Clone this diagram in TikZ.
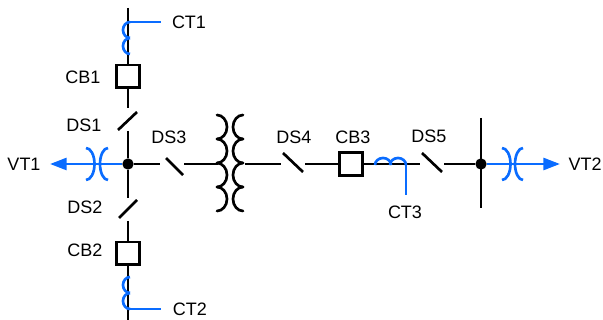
\documentclass[tikz,border=0pt]{standalone}
\usepackage{fontspec}
\setmainfont{Liberation Sans}
\usetikzlibrary{arrows.meta}
\definecolor{ctblue}{RGB}{10,108,255}
\tikzset{
  wire/.style={line width=2pt},
  bluewire/.style={line width=2pt, color=ctblue},
  cbbox/.style={draw, line width=2pt, fill=white, minimum size=17pt, inner sep=0pt},
  busdot/.style={circle, fill=black, minimum size=8.5pt, inner sep=0pt},
  lbl/.style={font=\fontsize{13.5pt}{15pt}\selectfont, inner sep=0pt}
}
\begin{document}
\begin{tikzpicture}[x=0.75pt, y=-0.75pt]
\useasboundingbox (0,0) rectangle (603,320);

% breakers and bus dots
\node[cbbox] (CB1) at (128,76.5) {};
\node[cbbox] (CB2) at (128,253.5) {};
\node[cbbox] (CB3) at (351,164) {};
\node[busdot] (J1) at (128,164) {};
\node[busdot] (J2) at (481,164) {};

% line ends and contacts
\foreach \name/\x/\y in {top/128/8, ds1a/128/108, ds1b/128/131, ds2a/128/198, ds2b/128/221, bot/128/320,
  ds3a/160/164, ds3b/184/164, tl/218/164, tr/245/164, ds4a/281/164, ds4b/305/164, ds5a/420/164, ds5b/444/164,
  bustop/481/118, busbot/481/208, vta/50/164, vtb/560/164, cta/161/22, ctb/161/309, ctc/406/195, ctd/406/164, cte/130/22, ctf/130/309}
  \coordinate (\name) at (\x,\y);

% black wires
\draw[wire] (top) -- (CB1);
\draw[wire] (CB1) -- (ds1a);
\draw[wire] (ds1b) -- (J1);
\draw[wire] (J1) -- (ds2a);
\draw[wire] (ds2b) -- (CB2);
\draw[wire] (CB2) -- (bot);
\draw[wire] (J1) -- (ds3a);
\draw[wire] (ds3b) -- (tl);
\draw[wire] (tr) -- (ds4a);
\draw[wire] (ds4b) -- (CB3);
\draw[wire] (CB3) -- (ds5a);
\draw[wire] (ds5b) -- (J2);
\draw[wire] (bustop) -- (busbot);

% disconnector blades
\foreach \xa/\ya/\xb/\yb in {118/130/137/112, 119/218/137/200, 166/158/183/175, 283/153/303/172, 422/153/442/172}
  \draw[wire] (\xa,\ya) -- (\xb,\yb);

% transformer
\foreach \y in {115,139,163,187}{
  \draw[wire, line cap=round] (217,\y) arc[start angle=-90, end angle=90, x radius=10, y radius=12];
  \draw[wire, line cap=round] (243,\y) arc[start angle=-90, end angle=-270, x radius=10, y radius=12];
}

% voltage transformers
\draw[bluewire, -{Triangle[length=12.5pt, width=9pt]}] (J1) -- (vta);
\draw[bluewire, -{Triangle[length=12.5pt, width=9pt]}] (J2) -- (vtb);
\foreach \xa/\xb in {86/108, 502/523}{
  \draw[bluewire] (\xa,148) arc[start angle=-90, end angle=90, x radius=8.5, y radius=16];
  \draw[bluewire] (\xb,148) arc[start angle=-90, end angle=-270, x radius=8, y radius=16];
}

% current transformers
\foreach \y in {22,38,277,293}
  \draw[bluewire] (130,\y) arc[start angle=-90, end angle=-270, x radius=7, y radius=8];
\foreach \x in {375,390}
  \draw[bluewire] (\x,165) arc[start angle=180, end angle=360, x radius=8, y radius=7];
\draw[bluewire] (cte) -- (cta);
\draw[bluewire] (ctf) -- (ctb);
\draw[bluewire] (ctd) -- (ctc);

% labels
\foreach \name/\x/\y/\txt in {lCT1/189/22/CT1, lCB1/83/77/CB1, lDS1/84/125/DS1, lDS3/169/137/DS3, lVT1/24/164/VT1,
  lDS2/85/207/DS2, lCB2/85/250/CB2, lCT2/190/309/CT2, lDS4/294/137/DS4, lCB3/353/137/CB3,
  lCT3/405/212/CT3, lDS5/429/136/DS5, lVT2/585/164/VT2}
  \node[lbl] (\name) at (\x,\y) {\txt};
\end{tikzpicture}
\end{document}
